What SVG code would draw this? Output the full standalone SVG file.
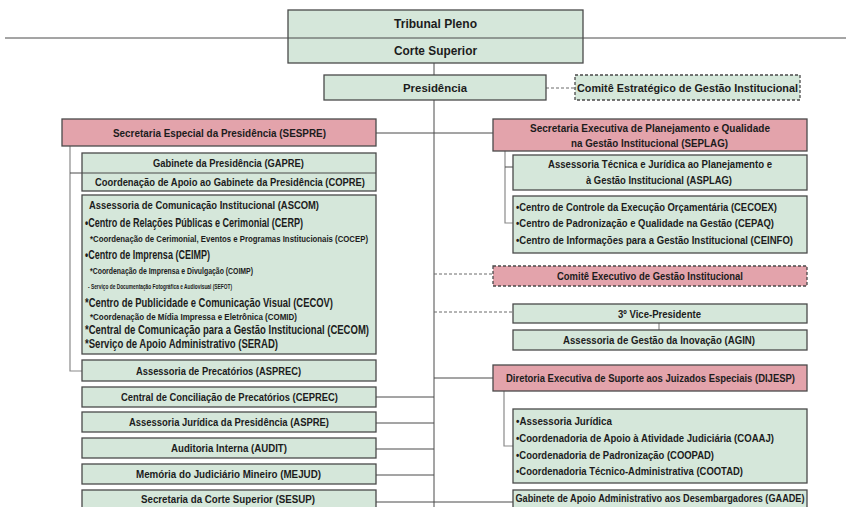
<svg xmlns="http://www.w3.org/2000/svg" width="846" height="507" viewBox="0 0 846 507">
<style>
.g{fill:#d5e7da;stroke:#4a4a4a;stroke-width:1.3}
.p{fill:#e3a3ab;stroke:#4a4a4a;stroke-width:1.3}
.d{stroke-dasharray:3 2}
text{font-family:"Liberation Sans",Arial,sans-serif;font-weight:bold;fill:#1c1c1c;font-size:11px;dominant-baseline:central}
.c{text-anchor:middle}
.s{font-size:8.5px}
.xs{font-size:7.5px}
.b{font-size:12px}
.t{font-size:13px}
.m{font-size:10.5px}
.ln{stroke:#4a4a4a;stroke-width:1;fill:none}
.lg{stroke:#8a8a8a;stroke-width:1.2;fill:none}
.ld{stroke:#6a6a6a;stroke-width:1;fill:none;stroke-dasharray:3 2}
</style>
<rect width="846" height="507" fill="#ffffff"/>
<g id="connectors">
<line class="ln" x1="434" y1="63" x2="434" y2="75"/>
<line class="ln" x1="434" y1="100" x2="434" y2="507"/>
<line class="ln" x1="376" y1="133" x2="493" y2="133"/>
<line class="ln" x1="434" y1="378" x2="493" y2="378"/>
<line class="ln" x1="376" y1="397" x2="434" y2="397"/>
<line class="ln" x1="376" y1="423" x2="434" y2="423"/>
<line class="ln" x1="376" y1="449" x2="434" y2="449"/>
<line class="ln" x1="376" y1="475" x2="434" y2="475"/>
<line class="ln" x1="376" y1="502" x2="513" y2="502"/>
<line class="ld" x1="546" y1="88" x2="575" y2="88"/>
<line class="ld" x1="434" y1="274" x2="493" y2="274"/>
<line class="ld" x1="434" y1="312" x2="513" y2="312"/>
<polyline class="lg" points="70,146 70,371 82,371"/>
<line class="ln" x1="70" y1="173" x2="82" y2="173"/>
<polyline class="lg" points="505,151 505,223 513,223"/>
<line class="ln" x1="505" y1="167" x2="513" y2="167"/>
<polyline class="lg" points="504,391 504,446 513,446"/>
<line class="lg" x1="659" y1="323" x2="659" y2="330"/>
</g>
<g id="tribunal">
<rect class="g" x="288" y="10" width="295" height="53"/>
<text class="c t" x="435.5" y="23" textLength="83" lengthAdjust="spacingAndGlyphs">Tribunal Pleno</text>
<text class="c t" x="435.5" y="50" textLength="83" lengthAdjust="spacingAndGlyphs">Corte Superior</text>
</g>
<line class="ln" x1="5" y1="38" x2="846" y2="38"/>
<g id="presidencia">
<rect class="g" x="324" y="75" width="222" height="25"/>
<text class="c" x="435" y="88" textLength="64" lengthAdjust="spacingAndGlyphs">Presidência</text>
</g>
<g id="comite-estrategico">
<rect class="g d" x="575" y="75" width="225" height="25"/>
<text class="c" x="687.5" y="88" textLength="221" lengthAdjust="spacingAndGlyphs">Comitê Estratégico de Gestão Institucional</text>
</g>
<g id="sespre">
<rect class="p" x="62" y="119" width="314" height="27"/>
<text class="c" x="219.5" y="132.5" textLength="213" lengthAdjust="spacingAndGlyphs">Secretaria Especial da Presidência (SESPRE)</text>
</g>
<g id="gapre">
<rect class="g" x="82" y="153" width="294" height="38"/>
<line class="ln" x1="82" y1="173" x2="376" y2="173"/>
<text class="c" x="228.5" y="163" textLength="151" lengthAdjust="spacingAndGlyphs">Gabinete da Presidência (GAPRE)</text>
<text class="c" x="230" y="182" textLength="270" lengthAdjust="spacingAndGlyphs">Coordenação de Apoio ao Gabinete da Presidência (COPRE)</text>
</g>
<g id="ascom">
<rect class="g" x="82" y="195" width="294" height="159"/>
<text x="89" y="205" textLength="230" lengthAdjust="spacingAndGlyphs">Assessoria de Comunicação Institucional (ASCOM)</text>
<text class="b" x="85" y="223" textLength="218" lengthAdjust="spacingAndGlyphs">•Centro de Relações Públicas e Cerimonial (CERP)</text>
<text class="s" x="90" y="239" textLength="278" lengthAdjust="spacingAndGlyphs">*Coordenação  de Cerimonial, Eventos e Programas Institucionais (COCEP)</text>
<text class="b" x="85" y="255" textLength="125" lengthAdjust="spacingAndGlyphs">•Centro de Imprensa (CEIMP)</text>
<text class="s" x="90" y="271" textLength="163" lengthAdjust="spacingAndGlyphs">*Coordenação de Imprensa e Divulgação (COIMP)</text>
<text class="xs" x="88" y="286" textLength="144" lengthAdjust="spacingAndGlyphs">- Serviço de Documentação Fotográfica e Audiovisual (SEFOT)</text>
<text class="b" x="85" y="303" textLength="248" lengthAdjust="spacingAndGlyphs">*Centro de Publicidade e Comunicação Visual (CECOV)</text>
<text class="s" x="90" y="317" textLength="207" lengthAdjust="spacingAndGlyphs">*Coordenação de Mídia Impressa e Eletrônica (COMID)</text>
<text class="b" x="85" y="330" textLength="284" lengthAdjust="spacingAndGlyphs">*Central de Comunicação para a Gestão Institucional (CECOM)</text>
<text class="b" x="85" y="344" textLength="193" lengthAdjust="spacingAndGlyphs">*Serviço de Apoio Administrativo (SERAD)</text>
</g>
<g id="asprec">
<rect class="g" x="82" y="360" width="294" height="21"/>
<text class="c" x="218.5" y="370.5" textLength="165" lengthAdjust="spacingAndGlyphs">Assessoria de Precatórios (ASPREC)</text>
</g>
<g id="ceprec">
<rect class="g" x="82" y="387" width="294" height="20"/>
<text class="c" x="229.5" y="397" textLength="217" lengthAdjust="spacingAndGlyphs">Central de Conciliação de Precatórios (CEPREC)</text>
</g>
<g id="aspre">
<rect class="g" x="82" y="412" width="294" height="20"/>
<text class="c" x="229" y="422" textLength="200" lengthAdjust="spacingAndGlyphs">Assessoria Jurídica da Presidência (ASPRE)</text>
</g>
<g id="audit">
<rect class="g" x="82" y="438" width="294" height="20"/>
<text class="c" x="229" y="448" textLength="116" lengthAdjust="spacingAndGlyphs">Auditoria Interna (AUDIT)</text>
</g>
<g id="mejud">
<rect class="g" x="82" y="464" width="294" height="20"/>
<text class="c" x="228.5" y="474" textLength="185" lengthAdjust="spacingAndGlyphs">Memória do Judiciário Mineiro (MEJUD)</text>
</g>
<g id="sesup">
<rect class="g" x="82" y="490" width="294" height="22"/>
<text class="c" x="228" y="498.5" textLength="174" lengthAdjust="spacingAndGlyphs">Secretaria da Corte Superior (SESUP)</text>
</g>
<g id="seplag">
<rect class="p" x="493" y="119" width="314" height="32"/>
<text class="c" x="650" y="128" textLength="240" lengthAdjust="spacingAndGlyphs">Secretaria Executiva de Planejamento e Qualidade</text>
<text class="c" x="649.5" y="143" textLength="157" lengthAdjust="spacingAndGlyphs">na Gestão Institucional (SEPLAG)</text>
</g>
<g id="asplag">
<rect class="g" x="513" y="155" width="294" height="35"/>
<text class="c" x="660" y="164" textLength="224" lengthAdjust="spacingAndGlyphs">Assessoria Técnica e Jurídica ao Planejamento e</text>
<text class="c" x="659" y="180" textLength="146" lengthAdjust="spacingAndGlyphs">à Gestão Institucional (ASPLAG)</text>
</g>
<g id="centros-seplag">
<rect class="g" x="513" y="196" width="294" height="57"/>
<text x="516" y="207" textLength="261" lengthAdjust="spacingAndGlyphs">•Centro de Controle da Execução Orçamentária (CECOEX)</text>
<text x="516" y="223" textLength="258" lengthAdjust="spacingAndGlyphs">•Centro de Padronização e Qualidade na Gestão (CEPAQ)</text>
<text x="516" y="240" textLength="277" lengthAdjust="spacingAndGlyphs">•Centro de Informações para a Gestão Institucional (CEINFO)</text>
</g>
<g id="comite-executivo">
<rect class="p d" x="493" y="266" width="314" height="20"/>
<text class="c" x="650" y="276" textLength="186" lengthAdjust="spacingAndGlyphs">Comitê Executivo de Gestão Institucional</text>
</g>
<g id="vice3">
<rect class="g" x="513" y="304" width="294" height="19"/>
<text class="c" x="659.5" y="313.5" textLength="83" lengthAdjust="spacingAndGlyphs">3º Vice-Presidente</text>
</g>
<g id="agin">
<rect class="g" x="513" y="330" width="294" height="20"/>
<text class="c" x="659" y="340" textLength="192" lengthAdjust="spacingAndGlyphs">Assessoria de Gestão da Inovação  (AGIN)</text>
</g>
<g id="dijesp">
<rect class="p" x="493" y="365" width="314" height="26"/>
<text class="c" x="650.5" y="378" textLength="289" lengthAdjust="spacingAndGlyphs">Diretoria Executiva de Suporte aos Juizados Especiais (DIJESP)</text>
</g>
<g id="dijesp-unidades">
<rect class="g" x="513" y="409" width="294" height="74"/>
<text x="516" y="421" textLength="96" lengthAdjust="spacingAndGlyphs">•Assessoria Jurídica</text>
<text x="516" y="438" textLength="258" lengthAdjust="spacingAndGlyphs">•Coordenadoria de Apoio à Atividade Judiciária (COAAJ)</text>
<text x="516" y="455" textLength="198" lengthAdjust="spacingAndGlyphs">•Coordenadoria de Padronização (COOPAD)</text>
<text x="516" y="471" textLength="227" lengthAdjust="spacingAndGlyphs">•Coordenadoria Técnico-Administrativa (COOTAD)</text>
</g>
<g id="gaade">
<rect class="g" x="513" y="490" width="294" height="22"/>
<text class="c m" x="660" y="498" textLength="289" lengthAdjust="spacingAndGlyphs">Gabinete de Apoio Administrativo aos Desembargadores (GAADE)</text>
</g>
</svg>
